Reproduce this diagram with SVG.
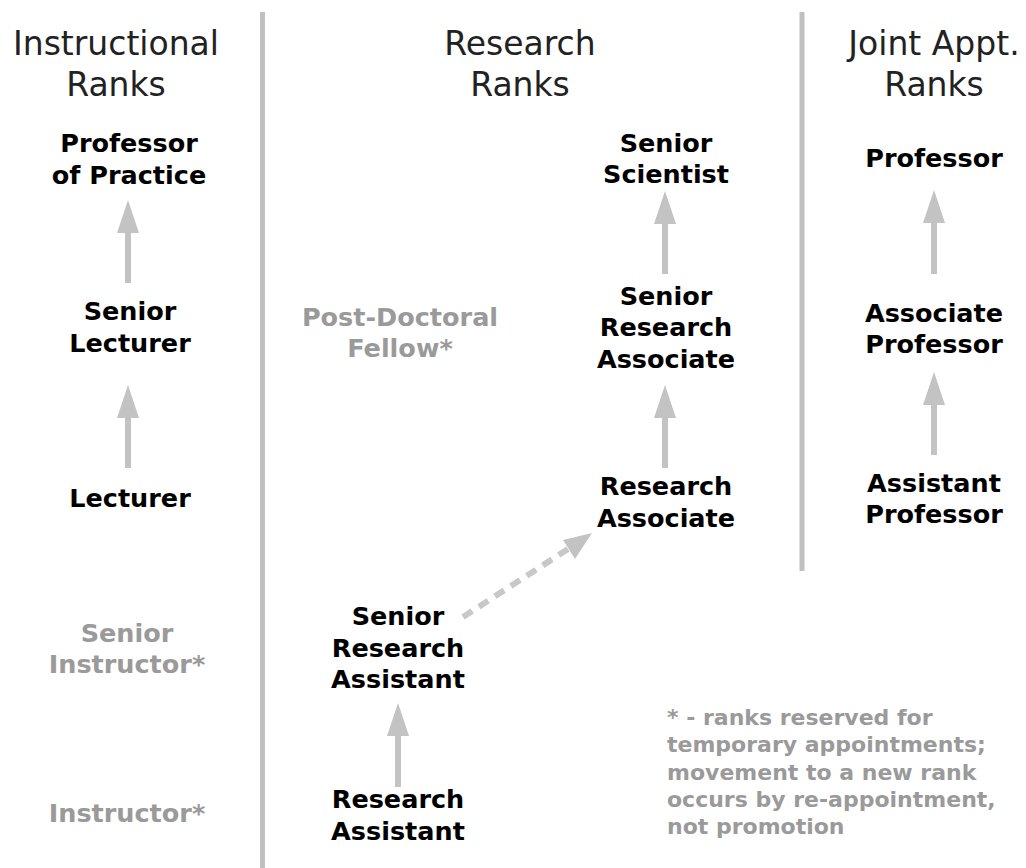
<svg xmlns="http://www.w3.org/2000/svg" width="1026" height="868" viewBox="0 0 1026 868">
<style>
.hdr{font-family:"DejaVu Sans",Verdana,sans-serif;font-size:33px;fill:#222;text-anchor:middle}
.lbl{font-family:"DejaVu Sans",Verdana,sans-serif;font-weight:bold;font-size:25.5px;fill:#000;text-anchor:middle}
.tmp{font-family:"DejaVu Sans",Verdana,sans-serif;font-weight:bold;font-size:25.5px;fill:#9a9a9a;text-anchor:middle}
.note{font-family:"DejaVu Sans",Verdana,sans-serif;font-weight:bold;font-size:22px;fill:#9a9a9a}
.div{stroke:#c0c0c0;stroke-width:5}
.shaft{stroke:#c3c3c3;stroke-width:6;fill:none}
.dash{stroke:#c8c8c8;stroke-width:6;fill:none;stroke-dasharray:11 8}
.head{fill:#c3c3c3}
</style>
<rect width="1026" height="868" fill="#fff"/>
<g id="dividers">
<line class="div" x1="262.5" y1="12" x2="262.5" y2="868"/>
<line class="div" x1="802" y1="12" x2="802" y2="571"/>
</g>
<g id="headers">
<text class="hdr" x="116" y="55">Instructional</text>
<text class="hdr" x="116" y="96">Ranks</text>
<text class="hdr" x="520" y="55">Research</text>
<text class="hdr" x="520" y="96">Ranks</text>
<text class="hdr" x="934" y="55">Joint Appt.</text>
<text class="hdr" x="934" y="96">Ranks</text>
</g>
<g id="connectors">
<line class="shaft" x1="128" y1="283" x2="128" y2="225"/><polygon class="head" points="128,200 117,233 139,233"/>
<line class="shaft" x1="128" y1="468" x2="128" y2="410"/><polygon class="head" points="128,385 117,418 139,418"/>
<line class="shaft" x1="665" y1="274" x2="665" y2="216"/><polygon class="head" points="665,191 654,224 676,224"/>
<line class="shaft" x1="665" y1="468" x2="665" y2="410"/><polygon class="head" points="665,385 654,418 676,418"/>
<line class="shaft" x1="934" y1="274" x2="934" y2="215"/><polygon class="head" points="934,190 923,223 945,223"/>
<line class="shaft" x1="934" y1="455" x2="934" y2="397"/><polygon class="head" points="934,372 923,405 945,405"/>
<line class="shaft" x1="398" y1="787" x2="398" y2="728"/><polygon class="head" points="398,703 387,736 409,736"/>
<line class="dash" x1="463" y1="617" x2="568" y2="549"/><polygon class="head" points="592,533 575,559 563,540"/>
</g>
<g id="prof-practice"><text class="lbl" x="129" y="152">Professor</text><text class="lbl" x="129" y="184">of Practice</text></g>
<g id="senior-lecturer"><text class="lbl" x="130" y="320">Senior</text><text class="lbl" x="130" y="352">Lecturer</text></g>
<g id="lecturer"><text class="lbl" x="130" y="507">Lecturer</text></g>
<g id="senior-instructor"><text class="tmp" x="127" y="642">Senior</text><text class="tmp" x="127" y="673">Instructor*</text></g>
<g id="instructor"><text class="tmp" x="127" y="822">Instructor*</text></g>
<g id="postdoc"><text class="tmp" x="400" y="326">Post-Doctoral</text><text class="tmp" x="400" y="357">Fellow*</text></g>
<g id="senior-scientist"><text class="lbl" x="666" y="152">Senior</text><text class="lbl" x="666" y="183">Scientist</text></g>
<g id="senior-research-associate"><text class="lbl" x="666" y="305">Senior</text><text class="lbl" x="666" y="336">Research</text><text class="lbl" x="666" y="368">Associate</text></g>
<g id="research-associate"><text class="lbl" x="666" y="495">Research</text><text class="lbl" x="666" y="527">Associate</text></g>
<g id="senior-research-assistant"><text class="lbl" x="398" y="625">Senior</text><text class="lbl" x="398" y="657">Research</text><text class="lbl" x="398" y="688">Assistant</text></g>
<g id="research-assistant"><text class="lbl" x="398" y="808">Research</text><text class="lbl" x="398" y="840">Assistant</text></g>
<g id="professor"><text class="lbl" x="934" y="167">Professor</text></g>
<g id="associate-professor"><text class="lbl" x="934" y="322">Associate</text><text class="lbl" x="934" y="353">Professor</text></g>
<g id="assistant-professor"><text class="lbl" x="934" y="492">Assistant</text><text class="lbl" x="934" y="523">Professor</text></g>
<g id="footnote">
<text class="note" x="667" y="725">* - ranks reserved for</text>
<text class="note" x="667" y="752">temporary appointments;</text>
<text class="note" x="667" y="780">movement to a new rank</text>
<text class="note" x="667" y="807">occurs by re-appointment,</text>
<text class="note" x="667" y="834">not promotion</text>
</g>
</svg>
